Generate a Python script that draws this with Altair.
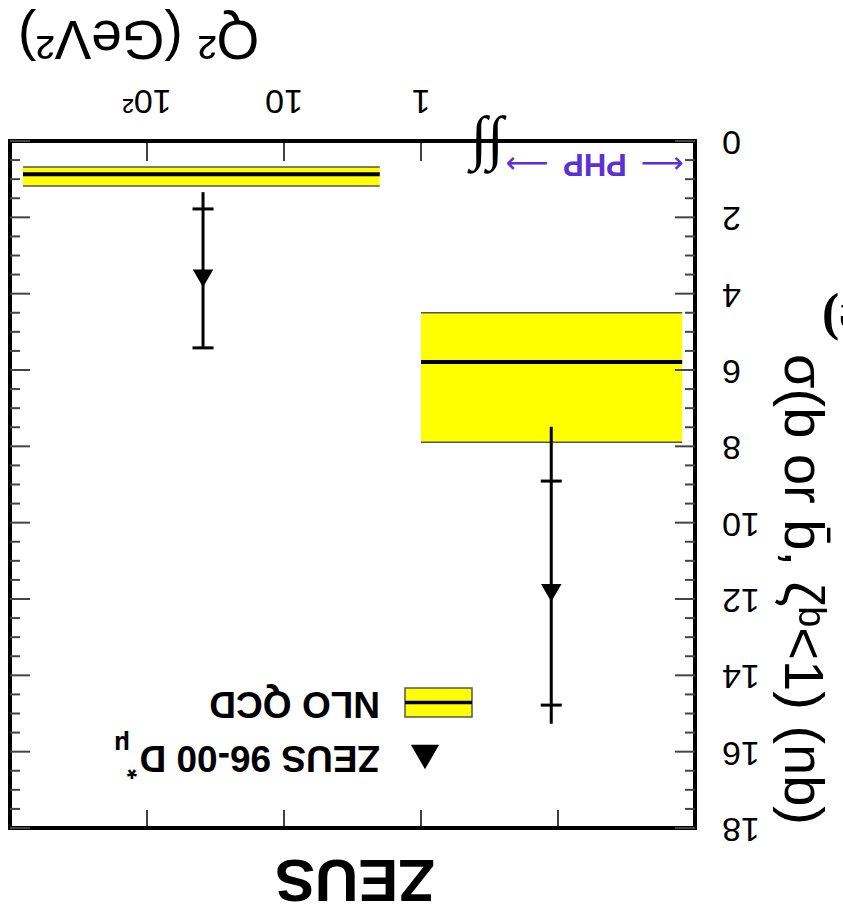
import altair as alt
import pandas as pd

# ---------------- data ----------------
# ZEUS 96-00 D* mu points
pt_q2 = [39.0, 0.112]
pt_sigma = [3.6, 11.84]
pt_stat_lo = [1.78, 8.91]
pt_stat_hi = [5.42, 14.78]
pt_tot_lo = [1.34, 7.49]
pt_tot_hi = [5.45, 15.27]

# NLO QCD bands
nlo_q2_lo = [2.0, 0.0124]
nlo_q2_hi = [804.0, 1.0]
nlo_central = [0.87, 5.79]
nlo_lo = [0.68, 4.50]
nlo_hi = [1.18, 7.89]

# axes
x_tick_values = [1, 10, 100]
x_tick_labels = ["1", "10", "10²"]
x_inner_top = [1, 10, 100]
x_inner_bottom = [0.1, 1, 10, 100]
y_tick_values = [0, 2, 4, 6, 8, 10, 12, 14, 16, 18]
y_tick_labels = [str(v) for v in y_tick_values]
y_minor_values = [v / 2 for v in range(0, 37) if v % 4 != 0]

# annotation anchors (data coords)
php_q2 = [0.168, 0.0537, 0.0174]
php_txt = ["⟶", "PHP", "⟵"]
php_s = 0.58
brk_q2 = 0.33

W, H = 685, 687
FONT = "Liberation Sans"

pts = pd.DataFrame(dict(q2=pt_q2, s=pt_sigma, stat_lo=pt_stat_lo, stat_hi=pt_stat_hi,
                        tot_lo=pt_tot_lo, tot_hi=pt_tot_hi))
nlo = pd.DataFrame(dict(q2_lo=nlo_q2_lo, q2_hi=nlo_q2_hi, c=nlo_central, lo=nlo_lo, hi=nlo_hi))

xscale = alt.Scale(type="log", domain=[0.01, 1000], reverse=True)
yscale = alt.Scale(domain=[0, 18], reverse=True, nice=False, zero=False)

x_axis = alt.Axis(orient="top", values=x_tick_values, labels=False,
                  ticks=False, domain=False, grid=False,
                  title="Q² (GeV²)", titleAngle=180, titleFontSize=55, titleFont=FONT,
                  titleFontWeight="normal", titleColor="black",
                  titleX=128, titleY=-104, titleAlign="center", titleBaseline="middle")

y_axis = alt.Axis(orient="right", values=y_tick_values, labels=False,
                  ticks=False, domain=False, grid=False,
                  title="σ(b or b̄, ζᵇ<1) (nb)", titleAngle=90, titleFontSize=56, titleFont=FONT,
                  titleFontWeight="normal", titleColor="black",
                  titleX=106, titleY=448, titleAlign="center", titleBaseline="middle")


def X(f):
    return alt.X(f, scale=xscale, axis=x_axis)


def Y(f):
    return alt.Y(f, scale=yscale, axis=y_axis)


base_nlo = alt.Chart(nlo)
band = base_nlo.mark_rect(color="#ffff00").encode(x=X("q2_lo:Q"), x2="q2_hi:Q", y=Y("lo:Q"), y2="hi:Q")
band_top = base_nlo.mark_rule(color="#555555", strokeWidth=1.5).encode(x=X("q2_lo:Q"), x2="q2_hi:Q", y=Y("lo:Q"))
band_bot = base_nlo.mark_rule(color="#555555", strokeWidth=1.5).encode(x=X("q2_lo:Q"), x2="q2_hi:Q", y=Y("hi:Q"))
band_c = base_nlo.mark_rule(color="black", strokeWidth=4).encode(x=X("q2_lo:Q"), x2="q2_hi:Q", y=Y("c:Q"))

base_pts = alt.Chart(pts)
err = base_pts.mark_rule(color="black", strokeWidth=3).encode(x=X("q2:Q"), y=Y("tot_lo:Q"), y2="tot_hi:Q")
caps = base_pts.transform_fold(["stat_lo", "stat_hi"], as_=["k", "v"]).mark_tick(
    orient="horizontal", size=21, thickness=3, color="black", opacity=1).encode(x=X("q2:Q"), y=Y("v:Q"))
marker = base_pts.mark_point(shape="triangle-down", filled=True, size=420, color="black",
                             opacity=1).encode(x=X("q2:Q"), y=Y("s:Q"))

# inner ticks
ymaj = alt.Chart(pd.DataFrame({"v": y_tick_values}))
ymin = alt.Chart(pd.DataFrame({"v": y_minor_values}))
tick_col = "#444444"
yt = []
for ch, ln in ((ymaj, 20), (ymin, 10)):
    yt.append(ch.mark_rule(color=tick_col, strokeWidth=2).encode(
        y=Y("v:Q"), x=alt.value(W - ln), x2=alt.value(W)))
    yt.append(ch.mark_rule(color=tick_col, strokeWidth=2).encode(
        y=Y("v:Q"), x=alt.value(0), x2=alt.value(ln)))
xt_top = alt.Chart(pd.DataFrame({"v": x_inner_top})).mark_rule(color="black", strokeWidth=1.5).encode(
    x=X("v:Q"), y=alt.value(0), y2=alt.value(20))
xt_bot = alt.Chart(pd.DataFrame({"v": x_inner_bottom})).mark_rule(color="black", strokeWidth=1.5).encode(
    x=X("v:Q"), y=alt.value(H - 18), y2=alt.value(H))

# tick labels (upside down)
x_lab = alt.Chart(pd.DataFrame({"v": x_tick_values, "t": x_tick_labels})).mark_text(
    angle=180, fontSize=34, font=FONT, color="black", align="center", baseline="middle").encode(
    x=X("v:Q"), y=alt.value(-41), text="t:N")
y_lab = alt.Chart(pd.DataFrame({"v": y_tick_values, "t": y_tick_labels})).mark_text(
    angle=180, fontSize=34, font=FONT, color="black", align="right", baseline="middle").encode(
    y=Y("v:Q"), x=alt.value(W + 27), text="t:N")

# annotations
php_df = pd.DataFrame({"q2": php_q2, "s": [php_s] * 3, "t": php_txt})
php_word = alt.Chart(php_df).transform_filter("datum.t == 'PHP'").mark_text(
    angle=180, fontSize=31, fontWeight="bold", font=FONT, color="#5b30d4", baseline="middle").encode(
    x=X("q2:Q"), y=Y("s:Q"), text="t:N")
php_arrows = alt.Chart(php_df).transform_filter("datum.t != 'PHP'").mark_text(
    angle=180, fontSize=30, font="DejaVu Sans", color="#5b30d4", baseline="middle").encode(
    x=X("q2:Q"), y=Y("s:Q"), text="t:N")
brk = alt.Chart(pd.DataFrame({"q2": [brk_q2], "s": [0.2], "t": ["∫∫"]})).mark_text(
    angle=180, fontSize=60, font="Liberation Serif", color="black", baseline="middle").encode(
    x=X("q2:Q"), y=Y("s:Q"), text="t:N")

one = pd.DataFrame({"t": ["x"]})
leg_box = alt.Chart(one).mark_rect(color="#ffff00", stroke="#555555", strokeWidth=1.5).encode(
    x=alt.value(395), x2=alt.value(462), y=alt.value(547), y2=alt.value(576))
leg_line = alt.Chart(one).mark_rule(color="black", strokeWidth=3.5).encode(
    x=alt.value(395), x2=alt.value(462), y=alt.value(561.5))
leg_tri = alt.Chart(one).mark_point(shape="triangle-down", filled=True, size=800, color="black", opacity=1).encode(
    x=alt.value(415), y=alt.value(616))

texts = pd.DataFrame({
    "t": ["NLO QCD", "ZEUS 96-00 D", "*", "μ", "ZEUS", "(e)"],
    "px": [370, 370, 127, 120, 345, 812],
    "py": [562, 616, 628, 603, 737, 179],
    "fs": [37, 37, 26, 26, 60, 52],
    "al": ["left", "left", "left", "left", "center", "right"],
})
txt_layers = []
for _, r in texts.iterrows():
    fnt = "Liberation Serif" if r["t"] == "(e)" else FONT
    txt_layers.append(alt.Chart(pd.DataFrame({"t": [r["t"]]})).mark_text(
        angle=180, fontSize=int(r["fs"]), fontWeight="bold", font=fnt, color="black",
        align=r["al"], baseline="middle").encode(
        x=alt.value(int(r["px"])), y=alt.value(int(r["py"])), text="t:N"))

chart = alt.layer(
    band, band_top, band_bot, band_c, *yt, xt_top, xt_bot, x_lab, y_lab,
    err, caps, marker, php_word, php_arrows, brk, leg_box, leg_line, leg_tri, *txt_layers
).properties(
    width=W, height=H,
    padding={"left": 10, "top": 141, "right": 148, "bottom": 88},
    autosize=alt.AutoSizeParams(type="none"),
    background="white",
).configure_view(stroke="black", strokeWidth=4)

chart.save("out.html", embed_options={"renderer": "svg", "actions": False})
